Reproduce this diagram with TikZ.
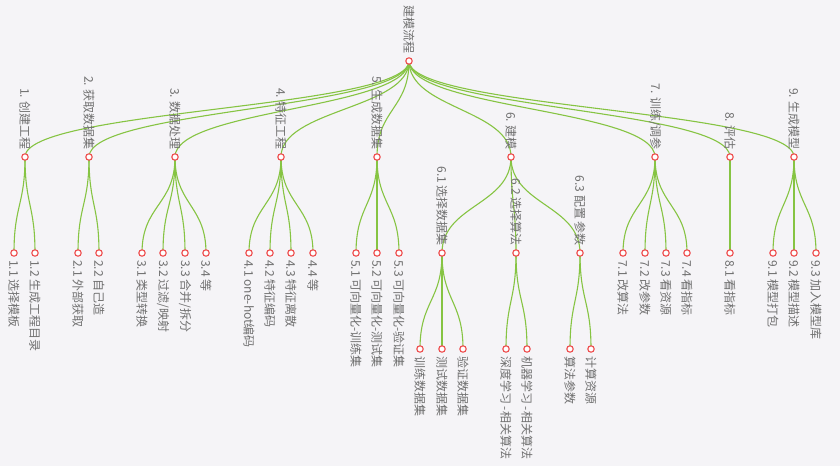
\documentclass[tikz,border=0pt]{standalone}
\usepackage{fontspec}
\setmainfont{Noto Sans CJK SC}
\usetikzlibrary{calc}
\pgfdeclarelayer{back}
\pgfdeclarelayer{edges}
\pgfsetlayers{back,edges,main}
\definecolor{bgc}{HTML}{F5F4F7}
\definecolor{edgec}{HTML}{86C443}
\definecolor{dotc}{HTML}{EE4B4B}
\definecolor{txtc}{HTML}{707070}
\tikzset{
  dot/.style={circle,draw=dotc,fill=white,line width=1.1pt,minimum size=6.4pt,inner sep=0pt},
  edge/.style={draw=edgec,line width=1.1pt},
  lab/.style={text=txtc,font=\fontsize{12}{14}\selectfont,inner sep=0pt,rotate=-90},
  labup/.style={lab,anchor=east},
  labdn/.style={lab,anchor=west},
}
\newcommand\tedge[2]{%
  \draw[edge] let \p1=(#1.center),\p2=(#2.center) in
    (\p1) .. controls (\x1,{0.5*\y1+0.5*\y2}) and (\x2,{0.5*\y1+0.5*\y2}) .. (\p2);}
\newcommand\nup[4]{%
  \node[dot] (#1) at (#2,#3) {};
  \node[labup] (#1l) at (#2,#3-7) {#4};}
\newcommand\ndn[4]{%
  \node[dot] (#1) at (#2,#3) {};
  \node[labdn] (#1l) at (#2,#3+7) {#4};}
\begin{document}
\begin{tikzpicture}[x=1pt,y=-1pt]
\begin{pgfonlayer}{back}
\fill[white] (0,0) rectangle (840,473);
\fill[bgc] (0,0) rectangle (840,466);
\end{pgfonlayer}
\useasboundingbox (0,0) rectangle (840,473);
% root
\nup{r}{409}{61}{建模流程}
% level 1
\nup{a}{25}{157}{1. 创建工程}
\nup{b}{89}{157}{2. 获取数据集}
\nup{c}{175}{157}{3. 数据处理}
\nup{d}{281}{157}{4. 特征工程}
\nup{e}{377}{157}{5. 生成数据集}
\nup{f}{511}{157}{6. 建模}
\nup{g}{655}{157}{7. 训练/调参}
\nup{h}{730}{157}{8. 评估}
\nup{i}{794}{157}{9. 生成模型}
% level 2
\ndn{a1}{14}{253}{1.1 选择模板}
\ndn{a2}{35}{253}{1.2 生成工程目录}
\ndn{b1}{78}{253}{2.1 外部获取}
\ndn{b2}{99}{253}{2.2 自己造}
\ndn{c1}{142}{253}{3.1 类型转换}
\ndn{c2}{163}{253}{3.2 过滤/映射}
\ndn{c3}{185}{253}{3.3 合并/拆分}
\ndn{c4}{206}{253}{3.4 等}
\ndn{d1}{249}{253}{4.1 one-hot编码}
\ndn{d2}{270}{253}{4.2 特征编码}
\ndn{d3}{291}{253}{4.3 特征离散}
\ndn{d4}{313}{253}{4.4 等}
\ndn{e1}{356}{253}{5.1 可向量化-训练集}
\ndn{e2}{377}{253}{5.2 可向量化-测试集}
\ndn{e3}{399}{253}{5.3 可向量化-验证集}
\nup{f1}{442}{253}{6.1 选择数据集}
\nup{f2}{516}{253}{6.2 选择算法}
\nup{f3}{580}{253}{6.3 配置 参数}
\ndn{g1}{623}{253}{7.1 改算法}
\ndn{g2}{645}{253}{7.2 改参数}
\ndn{g3}{666}{253}{7.3 看资源}
\ndn{g4}{687}{253}{7.4 看指标}
\ndn{h1}{730}{253}{8.1 看指标}
\ndn{i1}{773}{253}{9.1 模型打包}
\ndn{i2}{794}{253}{9.2 模型描述}
\ndn{i3}{816}{253}{9.3 加入模型库}
% level 3
\ndn{f11}{420}{349}{训练数据集}
\ndn{f12}{442}{349}{测试数据集}
\ndn{f13}{463}{349}{验证数据集}
\ndn{f21}{506}{349}{深度学习 -相关算法}
\ndn{f22}{527}{349}{机器学习 -相关算法}
\ndn{f31}{570}{349}{算法参数}
\ndn{f32}{591}{349}{计算资源}
\begin{pgfonlayer}{edges}
\foreach \c in {a,b,c,d,e,f,g,h,i} {\tedge{r}{\c}}
\tedge{a}{a1}\tedge{a}{a2}
\tedge{b}{b1}\tedge{b}{b2}
\foreach \k in {1,2,3,4} {\tedge{c}{c\k}\tedge{d}{d\k}\tedge{g}{g\k}}
\foreach \k in {1,2,3} {\tedge{e}{e\k}\tedge{f}{f\k}\tedge{i}{i\k}\tedge{f1}{f1\k}}
\tedge{h}{h1}
\tedge{f2}{f21}\tedge{f2}{f22}
\tedge{f3}{f31}\tedge{f3}{f32}
\end{pgfonlayer}
\end{tikzpicture}
\end{document}
